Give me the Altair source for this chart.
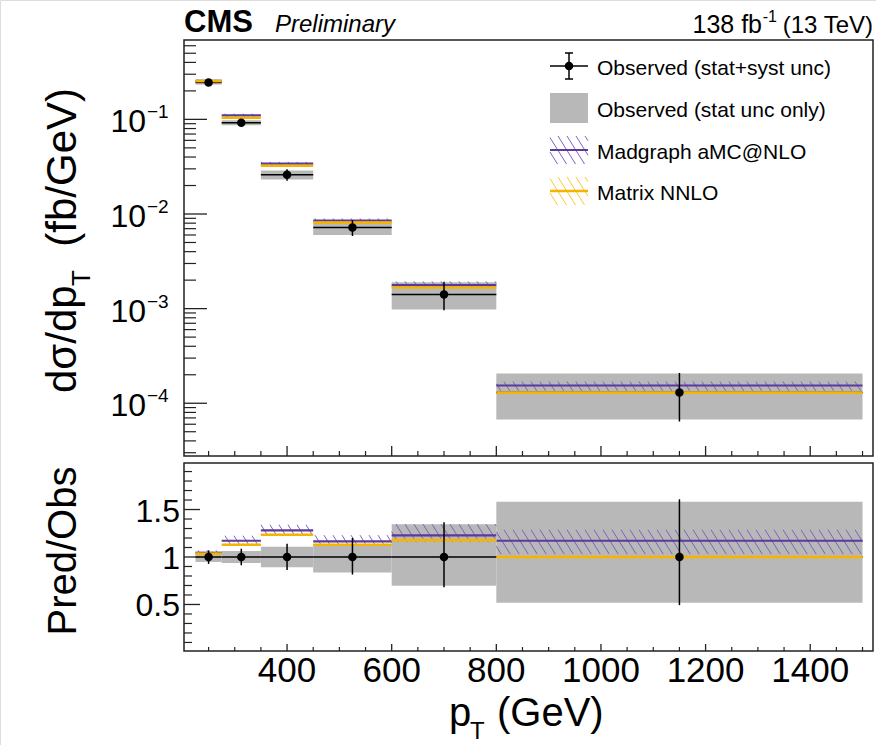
import math
import pandas as pd
import altair as alt

# ---------------- data ----------------
bin_lo = [225, 275, 350, 450, 600, 800]
bin_hi = [275, 350, 450, 600, 800, 1500]

obs = [0.246, 0.0923, 0.0260, 0.00718, 0.00141, 1.30e-4]
madgraph = [0.256, 0.110, 0.0340, 0.0085, 0.00177, 1.54e-4]
matrix = [0.254, 0.104, 0.0324, 0.0081, 0.00167, 1.29e-4]

# relative uncertainties (ratio panel)
stat_lo = [0.948, 0.937, 0.892, 0.836, 0.696, 0.518]
stat_hi = [1.040, 1.063, 1.108, 1.136, 1.346, 1.583]
tot_lo = [0.927, 0.913, 0.864, 0.815, 0.682, 0.493]
tot_hi = [1.070, 1.087, 1.140, 1.200, 1.367, 1.608]

mg_ratio = [1.045, 1.171, 1.280, 1.164, 1.227, 1.171]
mg_ratio_lo = [1.020, 1.130, 1.234, 1.130, 1.157, 1.030]
mg_ratio_hi = [1.070, 1.224, 1.339, 1.230, 1.346, 1.287]

mx_ratio = [1.035, 1.129, 1.234, 1.129, 1.178, 1.000]
mx_ratio_lo = [1.020, 1.114, 1.220, 1.115, 1.163, 0.985]
mx_ratio_hi = [1.050, 1.144, 1.248, 1.143, 1.193, 1.015]

upper_major = [1e-1, 1e-2, 1e-3, 1e-4]
upper_exp = ["\u22121", "\u22122", "\u22123", "\u22124"]
lower_major = [0.5, 1.0, 1.5]
lower_labels = ["0.5", "1", "1.5"]
x_major = [400, 600, 800, 1000, 1200, 1400]

legend_labels = ["Observed (stat+syst unc)", "Observed (stat unc only)",
                 "Madgraph aMC@NLO", "Matrix NNLO"]

# ---------------- layout / style ----------------
FONT = "Liberation Sans"
W, H = 876, 745
XMIN, XMAX = 203, 1520
PX0, PX1 = 184, 873
UY0, UY1 = 40, 456          # upper panel pixel top / bottom
UMIN, UMAX = 2.77e-5, 0.69
LY0, LY1 = 463, 651
LMIN, LMAX = 0.01, 1.99

GRAY = "#b8b8b8"
PURPLE = "#5b3a9b"
PURPLE_H = "#7e62c2"
ORANGE = "#f5b400"
ORANGE_H = "#fcc832"

XS = dict(domain=[XMIN, XMAX], range=[PX0, PX1], nice=False, zero=False)
US = dict(type="log", domain=[UMIN, UMAX], range=[UY1, UY0], nice=False)
LS = dict(domain=[LMIN, LMAX], range=[LY1, LY0], nice=False, zero=False)


def xe(f):
    return alt.X(f"{f}:Q", scale=alt.Scale(**XS), axis=None)


def ue(f):
    return alt.Y(f"{f}:Q", scale=alt.Scale(**US), axis=None)


def le(f):
    return alt.Y(f"{f}:Q", scale=alt.Scale(**LS), axis=None)


def fx(x):
    return PX0 + (x - XMIN) / (XMAX - XMIN) * (PX1 - PX0)


def fx_inv(p):
    return XMIN + (p - PX0) / (PX1 - PX0) * (XMAX - XMIN)


def fu(y):
    return UY0 + (math.log10(UMAX) - math.log10(y)) / (math.log10(UMAX) - math.log10(UMIN)) * (UY1 - UY0)


def fu_inv(p):
    return 10 ** (math.log10(UMAX) - (p - UY0) / (UY1 - UY0) * (math.log10(UMAX) - math.log10(UMIN)))


def fl(y):
    return LY0 + (LMAX - y) / (LMAX - LMIN) * (LY1 - LY0)


def fl_inv(p):
    return LMAX - (p - LY0) / (LY1 - LY0) * (LMAX - LMIN)


def hatch(x0, x1, ylo, yhi, fxx, fxx_inv, fyy, fyy_inv, spacing=9.0, slope=1.6):
    X0, X1 = fxx(x0), fxx(x1)
    Yt, Yb = fyy(yhi), fyy(ylo)
    Hh = Yb - Yt
    rows = []
    if Hh < 0.3:
        return rows
    dxf = Hh / slope
    k = math.floor((X0 - dxf) / spacing)
    while k * spacing <= X1:
        xs = k * spacing
        t0 = max(0.0, (X0 - xs) / dxf)
        t1 = min(1.0, (X1 - xs) / dxf)
        if t1 > t0:
            rows.append(dict(xa=fxx_inv(xs + t0 * dxf), ya=fyy_inv(Yt + t0 * Hh),
                             xb=fxx_inv(xs + t1 * dxf), yb=fyy_inv(Yt + t1 * Hh)))
        k += 1
    return rows


n = len(obs)
centers = [(a + b) / 2 for a, b in zip(bin_lo, bin_hi)]
df = pd.DataFrame(dict(
    lo=bin_lo, hi=bin_hi, c=centers, obs=obs,
    st_lo=[o * s for o, s in zip(obs, stat_lo)], st_hi=[o * s for o, s in zip(obs, stat_hi)],
    tt_lo=[o * s for o, s in zip(obs, tot_lo)], tt_hi=[o * s for o, s in zip(obs, tot_hi)],
    mg=madgraph, mx=matrix,
    mg_lo=[m * a / r for m, a, r in zip(madgraph, mg_ratio_lo, mg_ratio)],
    mg_hi=[m * a / r for m, a, r in zip(madgraph, mg_ratio_hi, mg_ratio)],
    mx_lo=[m * a / r for m, a, r in zip(matrix, mx_ratio_lo, mx_ratio)],
    mx_hi=[m * a / r for m, a, r in zip(matrix, mx_ratio_hi, mx_ratio)],
    one=[1.0] * n, s_lo=stat_lo, s_hi=stat_hi, t_lo=tot_lo, t_hi=tot_hi,
    rmg=mg_ratio, rmg_lo=mg_ratio_lo, rmg_hi=mg_ratio_hi,
    rmx=mx_ratio, rmx_lo=mx_ratio_lo, rmx_hi=mx_ratio_hi,
))

base = alt.Chart(df)
layers = []


def hatch_layer(rows, ye, color):
    if not rows:
        return None
    h = pd.DataFrame(rows)
    return alt.Chart(h).mark_rule(color=color, strokeWidth=1).encode(
        x=xe("xa"), x2="xb", y=ye("ya"), y2="yb")


def panel(ye, fyy, fyy_inv, yobs, slo, shi, tlo, thi, mgc, mglo, mghi, mxc, mxlo, mxhi):
    out = []
    out.append(base.mark_rect(color=GRAY).encode(x=xe("lo"), x2="hi", y=ye(slo), y2=shi))
    out.append(base.mark_rule(color="black", strokeWidth=1.5).encode(x=xe("lo"), x2="hi", y=ye(yobs)))
    rows_mg, rows_mx = [], []
    for i in range(n):
        rows_mg += hatch(bin_lo[i], bin_hi[i], df[mglo][i], df[mghi][i], fx, fx_inv, fyy, fyy_inv)
        rows_mx += hatch(bin_lo[i], bin_hi[i], df[mxlo][i], df[mxhi][i], fx, fx_inv, fyy, fyy_inv)
    l = hatch_layer(rows_mg, ye, PURPLE_H)
    if l is not None:
        out.append(l)
    out.append(base.mark_rule(color=PURPLE, strokeWidth=2.2).encode(x=xe("lo"), x2="hi", y=ye(mgc)))
    l = hatch_layer(rows_mx, ye, ORANGE_H)
    if l is not None:
        out.append(l)
    out.append(base.mark_rule(color=ORANGE, strokeWidth=2.6).encode(x=xe("lo"), x2="hi", y=ye(mxc)))
    out.append(base.mark_rule(color="black", strokeWidth=1.5).encode(x=xe("c"), y=ye(tlo), y2=thi))
    out.append(base.mark_circle(color="black", size=72, opacity=1).encode(x=xe("c"), y=ye(yobs)))
    return out


layers += panel(ue, fu, fu_inv, "obs", "st_lo", "st_hi", "tt_lo", "tt_hi",
                "mg", "mg_lo", "mg_hi", "mx", "mx_lo", "mx_hi")
layers += panel(le, fl, fl_inv, "one", "s_lo", "s_hi", "t_lo", "t_hi",
                "rmg", "rmg_lo", "rmg_hi", "rmx", "rmx_lo", "rmx_hi")

# ---------------- frames ----------------
frames = pd.DataFrame(dict(x=[PX0, PX0], x2=[PX1, PX1], y=[UY0, LY0], y2=[UY1, LY1]))
layers.append(alt.Chart(frames).mark_rect(fill=None, stroke="#222222", strokeWidth=1.5).encode(
    x=alt.X("x:Q", scale=None, axis=None), x2="x2",
    y=alt.Y("y:Q", scale=None, axis=None), y2="y2"))

# ---------------- ticks ----------------
umin_list = [k * 10.0 ** e for e in range(-5, 0) for k in range(2, 10) if UMIN <= k * 10.0 ** e <= UMAX]
t_um = pd.DataFrame(dict(v=upper_major))
t_un = pd.DataFrame(dict(v=umin_list))
layers.append(alt.Chart(t_um).mark_rule(color="#222", strokeWidth=1.3).encode(
    y=ue("v"), x=alt.value(PX0), x2=alt.value(PX0 + 23)))
layers.append(alt.Chart(t_un).mark_rule(color="#222", strokeWidth=1.2).encode(
    y=ue("v"), x=alt.value(PX0), x2=alt.value(PX0 + 12)))

lmin_list = [round(0.1 * k, 1) for k in range(1, 20) if round(0.1 * k, 1) not in lower_major]
layers.append(alt.Chart(pd.DataFrame(dict(v=lower_major))).mark_rule(color="#222", strokeWidth=1.3).encode(
    y=le("v"), x=alt.value(PX0), x2=alt.value(PX0 + 16)))
layers.append(alt.Chart(pd.DataFrame(dict(v=lmin_list))).mark_rule(color="#222", strokeWidth=1.2).encode(
    y=le("v"), x=alt.value(PX0), x2=alt.value(PX0 + 8)))

xmin_list = [v for v in range(250, 1501, 50) if v not in x_major]
for (y_base, lmaj, lmin) in ((UY1, 10, 5), (LY1, 7, 4)):
    layers.append(alt.Chart(pd.DataFrame(dict(v=x_major))).mark_rule(color="#222", strokeWidth=1.3).encode(
        x=xe("v"), y=alt.value(y_base), y2=alt.value(y_base - lmaj)))
    layers.append(alt.Chart(pd.DataFrame(dict(v=xmin_list))).mark_rule(color="#222", strokeWidth=1.2).encode(
        x=xe("v"), y=alt.value(y_base), y2=alt.value(y_base - lmin)))

# ---------------- tick labels ----------------
ulab = pd.DataFrame(dict(v=upper_major, e=upper_exp, b=["10"] * len(upper_major)))
layers.append(alt.Chart(ulab).mark_text(align="right", baseline="alphabetic", dy=13, fontSize=32,
                                         font=FONT, color="black").encode(
    y=ue("v"), x=alt.value(146), text="b:N"))
layers.append(alt.Chart(ulab).mark_text(align="left", baseline="alphabetic", dy=-1, fontSize=19,
                                         font=FONT, color="black").encode(
    y=ue("v"), x=alt.value(147), text="e:N"))
llab = pd.DataFrame(dict(v=lower_major, t=lower_labels))
layers.append(alt.Chart(llab).mark_text(align="right", baseline="alphabetic", dy=12, fontSize=32,
                                         font=FONT, color="black").encode(
    y=le("v"), x=alt.value(180), text="t:N"))
xlab = pd.DataFrame(dict(v=x_major, t=[str(v) for v in x_major]))
layers.append(alt.Chart(xlab).mark_text(align="center", baseline="alphabetic", fontSize=35,
                                         font=FONT, color="black").encode(
    x=xe("v"), y=alt.value(682), text="t:N"))


# ---------------- titles / labels ----------------
def txt(s, x, y, size, align="left", angle=0, weight="normal", style="normal", baseline="alphabetic"):
    return alt.Chart(pd.DataFrame(dict(t=[s]))).mark_text(
        align=align, baseline=baseline, fontSize=size, font=FONT, angle=angle,
        fontWeight=weight, fontStyle=style, color="black").encode(
        x=alt.value(x), y=alt.value(y), text="t:N")


layers.append(txt("p", 449, 726, 40))
layers.append(txt("T", 470, 739, 24))
layers.append(txt("(GeV)", 497, 726, 40))

layers.append(txt("d\u03c3/dp", 76, 393, 42, angle=270))
layers.append(txt("T", 90, 286, 26, angle=270))
layers.append(txt("(fb/GeV)", 76, 88, 42, align="right", angle=270))
layers.append(txt("Pred/Obs", 76, 551, 40, align="center", angle=270))

layers.append(txt("CMS", 184, 32, 31, weight="bold"))
layers.append(txt("Preliminary", 275, 32, 24, style="italic"))
layers.append(txt("(13 TeV)", 873, 33, 24, align="right"))
layers.append(txt("-1", 777, 22, 16, align="right"))
layers.append(txt("138 fb", 762, 33, 25, align="right"))

# ---------------- legend ----------------
LX0, LX1 = 550, 588
LXC = (LX0 + LX1) / 2
leg_rows_y = [66, 108, 150, 191]
leg_txt = pd.DataFrame(dict(t=legend_labels, y=[69, 111, 153, 194]))
layers.append(alt.Chart(leg_txt).mark_text(align="left", baseline="middle", fontSize=21, font=FONT,
                                            color="black").encode(
    x=alt.value(597), y=alt.Y("y:Q", scale=None, axis=None), text="t:N"))

px_rules = pd.DataFrame(dict(
    x=[LX0, LXC, LXC - 4, LXC - 4], x2=[LX1, LXC, LXC + 4, LXC + 4],
    y=[leg_rows_y[0], leg_rows_y[0] - 13, leg_rows_y[0] - 13, leg_rows_y[0] + 13],
    y2=[leg_rows_y[0], leg_rows_y[0] + 13, leg_rows_y[0] - 13, leg_rows_y[0] + 13]))
layers.append(alt.Chart(px_rules).mark_rule(color="black", strokeWidth=1.5).encode(
    x=alt.X("x:Q", scale=None, axis=None), x2="x2",
    y=alt.Y("y:Q", scale=None, axis=None), y2="y2"))
layers.append(alt.Chart(pd.DataFrame(dict(x=[LXC], y=[leg_rows_y[0]]))).mark_circle(
    color="black", size=72, opacity=1).encode(
    x=alt.X("x:Q", scale=None, axis=None), y=alt.Y("y:Q", scale=None, axis=None)))
layers.append(alt.Chart(pd.DataFrame(dict(x=[LX0], x2=[LX1], y=[93], y2=[123]))).mark_rect(
    color=GRAY).encode(x=alt.X("x:Q", scale=None, axis=None), x2="x2",
                       y=alt.Y("y:Q", scale=None, axis=None), y2="y2"))


def ident(v):
    return v


for yc, hcol, lcol, lw in ((leg_rows_y[2], PURPLE_H, PURPLE, 2.2), (leg_rows_y[3], ORANGE_H, ORANGE, 2.6)):
    rows = hatch(LX0, LX1, yc + 14, yc - 14, ident, ident, ident, ident, spacing=9.0, slope=1.6)
    hd = pd.DataFrame(rows)
    layers.append(alt.Chart(hd).mark_rule(color=hcol, strokeWidth=1).encode(
        x=alt.X("xa:Q", scale=None, axis=None), x2="xb",
        y=alt.Y("ya:Q", scale=None, axis=None), y2="yb"))
    layers.append(alt.Chart(pd.DataFrame(dict(x=[LX0], x2=[LX1], y=[yc]))).mark_rule(
        color=lcol, strokeWidth=lw).encode(
        x=alt.X("x:Q", scale=None, axis=None), x2="x2", y=alt.Y("y:Q", scale=None, axis=None)))

chart = alt.layer(*layers).resolve_scale(x="independent", y="independent").properties(
    width=W, height=H, autosize=alt.AutoSizeParams(type="none"), padding=0,
).configure_view(stroke=None).configure(background="white")

chart.save("out.html", embed_options={"renderer": "svg", "actions": False})
